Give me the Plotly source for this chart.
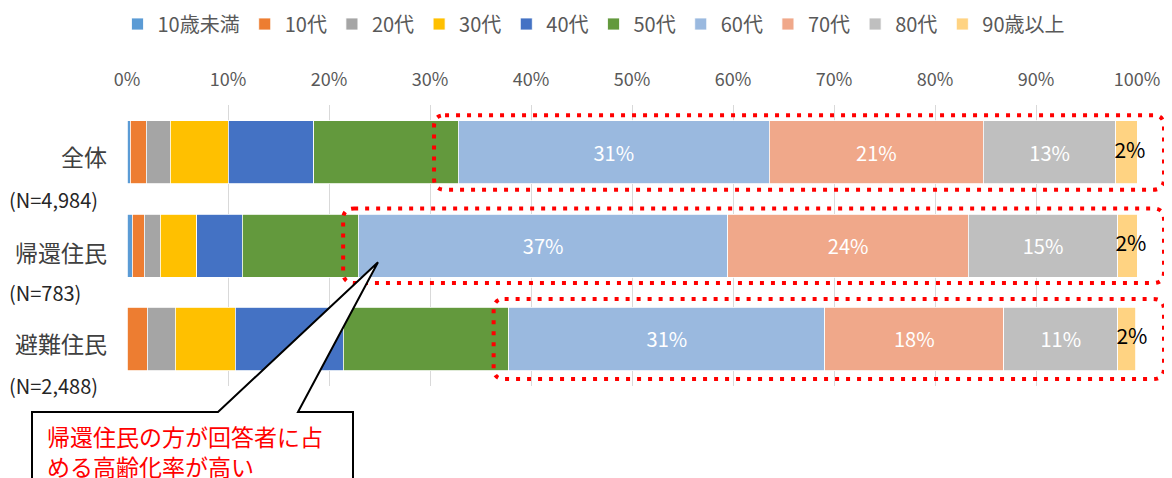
import plotly.graph_objects as go

# ---- data ----
groups = ["全体", "帰還住民", "避難住民"]
n_labels = ["(N=4,984)", "(N=783)", "(N=2,488)"]
age_classes = ["10歳未満", "10代", "20代", "30代", "40代", "50代", "60代", "70代", "80代", "90歳以上"]
# percentages per age class, one value per group (全体, 帰還住民, 避難住民)
u10 = [0.3, 0.5, 0.0]
a10 = [1.6, 1.2, 2.0]
a20 = [2.4, 1.6, 2.8]
a30 = [5.7, 3.6, 5.9]
a40 = [8.5, 4.5, 10.7]
a50 = [14.3, 11.5, 16.4]
a60 = [30.8, 36.6, 31.3]
a70 = [21.2, 23.8, 17.7]
a80 = [13.1, 14.8, 11.3]
a90 = [2.2, 2.0, 1.8]
series = [u10, a10, a20, a30, a40, a50, a60, a70, a80, a90]
labelled = [False, False, False, False, False, False, True, True, True, True]
colors = ["#5B9BD5", "#ED7D31", "#A5A5A5", "#FFC000", "#4472C4", "#63993D",
          "#9AB9DF", "#F0A88A", "#BFBFBF", "#FFD382"]
callout_lines = ["帰還住民の方が回答者に占", "める高齢化率が高い"]

FONT = "Noto Sans CJK JP"
W_FIG, H_FIG = 1172, 478
OFF = 8  # page body margin: figure is drawn 8px right/down of the window origin
# plot area in window pixels: x 127..1137, y 105..386
L, T = 127 - OFF, 105 - OFF
R, B = W_FIG - (1137 - OFF), H_FIG - (386 - OFF)
PW, PH = W_FIG - L - R, H_FIG - T - B
Y0, Y1 = 2.504, -0.509  # reversed category range


def px_x(px):
    return (px - OFF - L) / PW


def px_y(py):
    return 1 - (py - OFF - T) / PH


def row_y(v):
    return (Y0 - v) / (Y0 - Y1)


fig = go.Figure()
for i, (name, vals) in enumerate(zip(age_classes, series)):
    txt = [f"{v:.0f}%" for v in vals] if (labelled[i] and i < 9) else None
    fig.add_trace(go.Bar(
        y=groups, x=vals, name=name, orientation="h",
        marker=dict(color=colors[i], line=dict(color="white", width=0.8)),
        text=txt, textposition="inside", insidetextanchor="middle",
        constraintext="none", textangle=0,
        textfont=dict(family=FONT, size=20, color="white"),
        hoverinfo="skip",
    ))

# labels of the last (90歳以上) segment: they overflow the thin bar, drawn as text marks
last_centers = [100 - v / 2 for v in a90]
fig.add_trace(go.Scatter(
    x=[c + 0.4 for c in last_centers], y=groups, mode="text",
    text=[f"{v:.0f}%" for v in a90], textposition="middle center",
    textfont=dict(family=FONT, size=21, color="black"),
    showlegend=False, hoverinfo="skip", cliponaxis=False,
))

shapes = []
# dotted rounded boxes around 60代 and above
rx, ry = 11 / PW, 11 / PH
half = [0.40, 0.40, 0.43]
box_pad = [2.4, 1.5, 1.5]
for gi in range(len(groups)):
    start = sum(s[gi] for s in series[:6])
    x0 = (start - box_pad[gi]) / 100
    x1 = px_x(1164)
    yt = row_y(gi - half[gi])
    yb = row_y(gi + half[gi])
    path = (f"M {x0 + rx},{yt} L {x1 - rx},{yt} Q {x1},{yt} {x1},{yt - ry} "
            f"L {x1},{yb + ry} Q {x1},{yb} {x1 - rx},{yb} L {x0 + rx},{yb} "
            f"Q {x0},{yb} {x0},{yb + ry} L {x0},{yt - ry} Q {x0},{yt} {x0 + rx},{yt} Z")
    shapes.append(dict(type="path", xref="paper", yref="paper", path=path,
                       line=dict(color="#FF0000", width=4, dash="4px,7px"),
                       layer="above"))

# callout bubble
bx0, bx1, by0, by1 = px_x(32), px_x(353), px_y(412), px_y(500)
p0, p1 = px_x(218), px_x(298)
tipx, tipy = 0.2485, row_y(1.177)
cpath = (f"M {bx0},{by0} L {p0},{by0} L {tipx},{tipy} L {p1},{by0} L {bx1},{by0} "
         f"L {bx1},{by1} L {bx0},{by1} Z")
shapes.append(dict(type="path", xref="paper", yref="paper", path=cpath,
                   fillcolor="white", line=dict(color="black", width=2), layer="above"))

annotations = []
label_dy = [0.04, 0.07, 0.04]
for gi, (g, n) in enumerate(zip(groups, n_labels)):
    annotations.append(dict(xref="paper", yref="y", x=px_x(109), y=gi + label_dy[gi], text=g,
                            showarrow=False, xanchor="right", yanchor="middle",
                            font=dict(family=FONT, size=23, color="#404040")))
    annotations.append(dict(xref="paper", yref="y", x=px_x(7), y=gi + 0.50, text=n,
                            showarrow=False, xanchor="left", yanchor="middle",
                            font=dict(family=FONT, size=20, color="#262626")))
for k, (line, yy) in enumerate(zip(callout_lines, [436, 466])):
    annotations.append(dict(xref="paper", yref="paper", x=px_x(45), y=px_y(yy),
                            text=line, showarrow=False, xanchor="left", yanchor="middle",
                            font=dict(family=FONT, size=23, color="#FF0000")))

fig.update_layout(
    width=W_FIG, height=H_FIG,
    barmode="stack", bargap=0.324,
    margin=dict(l=L, r=R, t=T, b=B, pad=0, autoexpand=False),
    paper_bgcolor="white", plot_bgcolor="white",
    font=dict(family=FONT, color="#595959"),
    legend=dict(orientation="h", x=px_x(594), xanchor="center", y=px_y(24), yanchor="middle",
                font=dict(family=FONT, size=20, color="#595959"),
                traceorder="normal", itemwidth=30),
    xaxis=dict(side="top", range=[0, 100], dtick=10, ticksuffix="%",
               showgrid=True, gridcolor="#D9D9D9", gridwidth=1.3,
               zeroline=False, showline=False, ticks="", automargin=False,
               tickfont=dict(family=FONT, size=18, color="#595959"),
               ticklabelstandoff=14, fixedrange=True),
    yaxis=dict(categoryorder="array", categoryarray=groups, range=[Y0, Y1],
               showticklabels=False, showgrid=False, zeroline=False, showline=False,
               ticks="", fixedrange=True, automargin=False),
    shapes=shapes,
    annotations=annotations,
    showlegend=True,
)

fig.write_html("out.html")
